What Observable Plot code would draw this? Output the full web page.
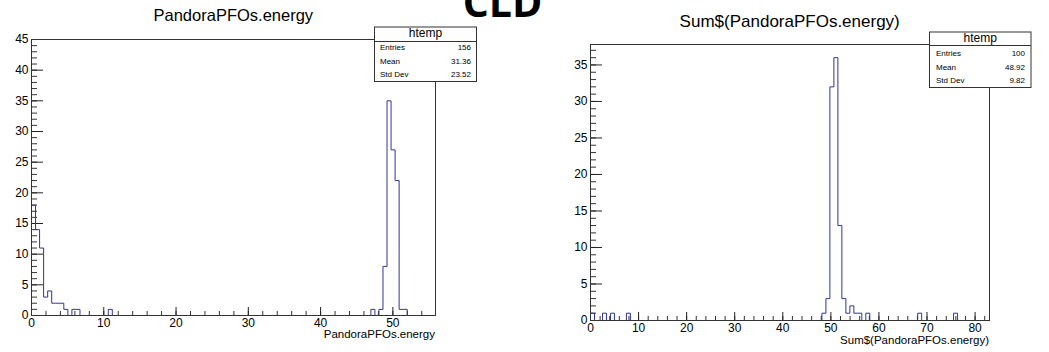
<!DOCTYPE html>
<html>
<head>
<meta charset="utf-8">
<script src="https://cdn.jsdelivr.net/npm/d3@7"></script>
<script src="https://cdn.jsdelivr.net/npm/@observablehq/plot@0.6"></script>
<style>
  body { margin: 0; background: #fff; }
  #wrap { position: relative; width: 1049px; height: 352px; overflow: hidden; background: #fff; }
  .panel { position: absolute; top: 0; }
  #overlay { position: absolute; left: 0; top: 0; }
</style>
</head>
<body>
<div id="wrap">
  <div id="left" class="panel" style="left:0px"></div>
  <div id="right" class="panel" style="left:520px"></div>
</div>
<script>
// ---------------- data ----------------
const leftNBins = 100;
const leftXMax = 55.9;
const leftYMax = 45;
const leftBinIndex = [0, 1, 2, 3, 4, 5, 6, 7, 8, 10, 11, 19, 84, 86, 87, 88, 89, 90, 91, 92];
const leftCounts   = [18, 14, 11, 3, 4, 2, 2, 2, 1, 1, 1, 1, 1, 1, 8, 35, 27, 22, 1, 1];

const rightNBins = 100;
const rightXMax = 83;
const rightYMax = 37.8;
const rightBinIndex = [0, 3, 5, 9, 58, 59, 60, 61, 62, 63, 64, 65, 66, 67, 69, 82, 91];
const rightCounts   = [1, 1, 1, 1, 1, 3, 32, 36, 13, 3, 1, 2, 1, 1, 1, 1, 1];

const leftTitle = "PandoraPFOs.energy";
const rightTitle = "Sum$(PandoraPFOs.energy)";
const statLabels = ["Entries", "Mean", "Std Dev"];
const leftStatValues = ["156", "31.36", "23.52"];
const rightStatValues = ["100", "48.92", "9.82"];
const statsName = "htemp";
const bigLabel = "CLD";

const leftXMajor = d3.range(0, 51, 10);
const leftXMinor = d3.range(0, 55, 2);
const leftYMajor = d3.range(0, 46, 5);
const leftYMinor = d3.range(0, 46, 1);
const rightXMajor = d3.range(0, 81, 10);
const rightXMinor = d3.range(0, 83, 2);
const rightYMajor = d3.range(0, 36, 5);
const rightYMinor = d3.range(0, 38, 1);

// ---------------- helpers ----------------
const FONT = '"Liberation Sans", Arial, Helvetica, sans-serif';
const LINE = "#333399";

function stepData(idx, counts, n, xmax) {
  const w = xmax / n;
  const full = new Array(n).fill(0);
  idx.forEach((k, i) => { full[k] = counts[i]; });
  const pts = [{x: 0, y: 0}];
  full.forEach((c, k) => pts.push({x: k * w, y: c}));
  pts.push({x: xmax, y: 0});
  return pts;
}

function panel(o) {
  const fw = o.width - o.ml - o.mr;
  const fh = o.height - o.mt - o.mb;
  return Plot.plot({
    width: o.width,
    height: o.height,
    marginLeft: o.ml, marginRight: o.mr, marginTop: o.mt, marginBottom: o.mb,
    style: {fontFamily: FONT, fontSize: "12px", color: "#000", background: "transparent", overflow: "visible"},
    x: {domain: [0, o.xmax]},
    y: {domain: [0, o.ymax]},
    marks: [
      Plot.ruleX(o.xMinor, {x: d => d, insetTop: fh - 4, stroke: "#333", strokeWidth: 1}),
      Plot.ruleX(o.xMajor, {x: d => d, insetTop: fh - 8, stroke: "#222", strokeWidth: 1}),
      Plot.ruleY(o.yMinor, {y: d => d, insetRight: fw - 6, stroke: "#333", strokeWidth: 1}),
      Plot.ruleY(o.yMajor, {y: d => d, insetRight: fw - 12, stroke: "#222", strokeWidth: 1}),
      Plot.line(o.data, {x: "x", y: "y", curve: "step-after", stroke: LINE, strokeWidth: 1}),
      Plot.frame({stroke: "#333", strokeWidth: 1}),
      Plot.axisX(o.xMajor, {tickSize: 0, tickPadding: 3, label: null, fontSize: 12}),
      Plot.axisY(o.yMajor, {tickSize: 0, tickPadding: 3, label: null, fontSize: 12})
    ]
  });
}

document.getElementById("left").append(panel({
  width: 520, height: 352, ml: 31, mr: 85, mt: 39, mb: 37,
  xmax: leftXMax, ymax: leftYMax,
  xMajor: leftXMajor, xMinor: leftXMinor, yMajor: leftYMajor, yMinor: leftYMinor,
  data: stepData(leftBinIndex, leftCounts, leftNBins, leftXMax)
}));

document.getElementById("right").append(panel({
  width: 529, height: 352, ml: 70, mr: 60, mt: 44, mb: 32,
  xmax: rightXMax, ymax: rightYMax,
  xMajor: rightXMajor, xMinor: rightXMinor, yMajor: rightYMajor, yMinor: rightYMinor,
  data: stepData(rightBinIndex, rightCounts, rightNBins, rightXMax)
}));

// ---------------- overlay texts and stats boxes ----------------
const svg = d3.select("#wrap").append("svg")
  .attr("id", "overlay").attr("width", 1049).attr("height", 352)
  .style("font-family", FONT);

function txt(x, y, s, size, anchor, extra) {
  const t = svg.append("text").attr("x", x).attr("y", y).attr("font-size", size)
    .attr("text-anchor", anchor || "start").attr("fill", "#000").text(s);
  if (extra) extra(t);
  return t;
}

txt(233.3, 20.7, leftTitle, 16.5, "middle");
txt(789.7, 26.7, rightTitle, 17, "middle");
txt(435, 338, leftTitle, 11.5, "end");
txt(989, 344, rightTitle, 11.5, "end");
txt(502.5, 17, bigLabel, 41, "middle", t => t.attr("font-family", '"Open Sans", "DejaVu Sans", sans-serif').attr("font-weight", 700));

function statsBox(x0, y0, x1, y1, yLine, headBase, rowBase, lx, vx, values) {
  svg.append("rect").attr("x", x0).attr("y", y0).attr("width", x1 - x0).attr("height", y1 - y0)
    .attr("fill", "#fff").attr("stroke", "#333").attr("stroke-width", 1);
  svg.append("line").attr("x1", x0).attr("x2", x1).attr("y1", yLine).attr("y2", yLine)
    .attr("stroke", "#333").attr("stroke-width", 1);
  txt((x0 + x1) / 2, headBase, statsName, 12, "middle");
  statLabels.forEach((l, i) => {
    txt(lx, rowBase[i], l, 8, "start");
    txt(vx, rowBase[i], values[i], 8, "end");
  });
}

statsBox(374.5, 27, 476.5, 81.5, 41.5, 37, [50, 63.5, 77], 380, 471, leftStatValues);
statsBox(929.5, 32, 1031, 87.5, 45.5, 42, [55.5, 69.5, 83], 936, 1025, rightStatValues);
</script>
</body>
</html>
